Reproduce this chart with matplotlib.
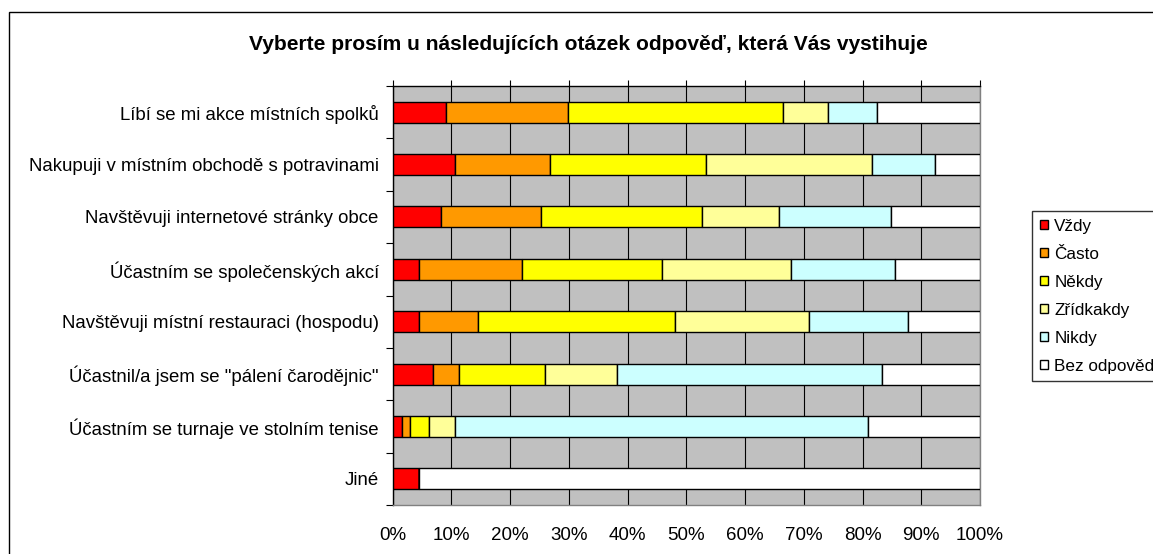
"""
Stacked 100% bar chart: survey answers (Czech).
"""

import numpy as np
import matplotlib.pyplot as plt
from matplotlib.patches import Rectangle

plt.rcParams["font.family"] = ["Liberation Sans", "DejaVu Sans"]

TITLE = "Vyberte prosím u následujících otázek odpověď, která Vás vystihuje"

categories = [
    "Líbí se mi akce místních spolků",
    "Nakupuji v místním obchodě s potravinami",
    "Navštěvuji internetové stránky obce",
    "Účastním se společenských akcí",
    "Navštěvuji místní restauraci (hospodu)",
    "Účastnil/a jsem se \"pálení čarodějnic\"",
    "Účastním se turnaje ve stolním tenise",
    "Jiné",
]

series_names = ["Vždy", "Často", "Někdy", "Zřídkakdy", "Nikdy", "Bez odpověď"]
series_colors = ["#FF0000", "#FF9900", "#FFFF00", "#FFFF99", "#CCFFFF", "#FFFFFF"]

vzdy = [9.1, 10.6, 8.3, 4.5, 4.5, 6.8, 1.5, 4.5]
casto = [20.7, 16.2, 16.9, 17.5, 10.0, 4.5, 1.4, 0.0]
nekdy = [36.6, 26.6, 27.5, 23.9, 33.6, 14.6, 3.2, 0.0]
zridkakdy = [7.7, 28.2, 13.0, 22.0, 22.8, 12.3, 4.5, 0.0]
nikdy = [8.4, 10.7, 19.1, 17.6, 16.8, 45.1, 70.4, 0.0]
bez_odpovedi = [17.5, 7.7, 15.2, 14.5, 12.3, 16.7, 19.0, 95.5]

xticks = [0, 10, 20, 30, 40, 50, 60, 70, 80, 90, 100]
xtick_labels = [f"{v}%" for v in xticks]


def main():
    W, H = 1153, 554
    fig = plt.figure(figsize=(W / 100, H / 100), dpi=100)
    fig.patch.set_facecolor("white")

    # outer chart border (runs off the right/bottom edge in the reference)
    fig.patches.append(Rectangle((9 / W, -0.05), 1.1, 1 - 12 / H + 0.05,
                                 transform=fig.transFigure, fill=False,
                                 edgecolor="black", linewidth=1.0))

    left, right, top, bottom = 392.7, 980, 86, 505
    ax = fig.add_axes([left / W, 1 - bottom / H, (right - left) / W, (bottom - top) / H])
    ax.set_facecolor("#C0C0C0")

    data = [vzdy, casto, nekdy, zridkakdy, nikdy, bez_odpovedi]
    y = np.arange(len(categories))
    lefts = np.zeros(len(categories))
    for vals, name, color in zip(data, series_names, series_colors):
        vals = np.array(vals)
        ax.barh(y, vals, left=lefts, height=0.4, color=color, edgecolor="black",
                linewidth=1.0, label=name, zorder=3)
        lefts += vals

    ax.set_xlim(0, 100)
    ax.set_ylim(len(categories) - 0.5, -0.5)

    ax.set_xticks(xticks)
    ax.set_xticklabels(xtick_labels, fontsize=13.5)
    ax.tick_params(axis="x", bottom=False, top=True, labelbottom=True, labeltop=False,
                   direction="out", length=4, width=0.8, pad=12)
    ax.grid(axis="x", color="black", linewidth=0.8, zorder=1)
    ax.set_axisbelow(True)

    ax.set_yticks(y)
    ax.set_yticklabels(categories, fontsize=13.4)
    ax.set_yticks(np.arange(len(categories) + 1) - 0.5, minor=True)
    ax.tick_params(axis="y", which="major", length=0, pad=10)
    ax.tick_params(axis="y", which="minor", length=5, width=0.8, direction="out")

    ax.spines["left"].set_color("black")
    ax.spines["top"].set_color("black")
    ax.spines["right"].set_color("#808080")
    ax.spines["bottom"].set_color("#808080")
    for s in ax.spines.values():
        s.set_linewidth(1.0)

    fig.text(588.5 / W, 1 - 44 / H, TITLE, ha="center", va="center",
             fontsize=15.1, fontweight="bold")

    leg = fig.legend(loc="upper left", bbox_to_anchor=(1032 / W, 1 - 211 / H),
                     bbox_transform=fig.transFigure, borderaxespad=0,
                     fontsize=12.3, frameon=True, fancybox=False,
                     handlelength=0.5, handleheight=0.5, handletextpad=0.35,
                     labelspacing=0.76, borderpad=0.45)
    leg.get_frame().set_edgecolor("black")
    leg.get_frame().set_linewidth(1.0)

    fig.savefig("out.png", dpi=100)
    plt.close(fig)


if __name__ == "__main__":
    main()
